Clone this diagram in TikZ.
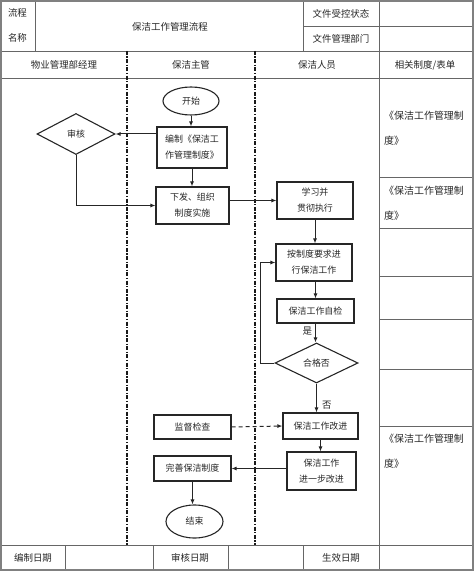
\documentclass[tikz,border=0pt]{standalone}
\usepackage{fontspec}
\setmainfont{Noto Sans CJK SC}
\usetikzlibrary{shapes.geometric,arrows.meta}
\begin{document}
\begin{tikzpicture}[x=1bp,y=-1bp,
  tbl/.style={draw=black!60, line width=0.9bp},
  outer/.style={draw=black!50, line width=2bp},
  box/.style={draw=black!85, line width=1.1bp, align=center, inner sep=0pt, text=black!85, font=\fontsize{9}{16}\selectfont},
  ell/.style={box, ellipse},
  dia/.style={box, diamond},
  arr/.style={-{Latex[length=5bp,width=4bp]}, line width=1bp, draw=black!85},
  dasharr/.style={arr, dash pattern=on 4bp off 3bp},
  lane/.style={line width=1.3bp, draw=black!90, dash pattern=on 4bp off 1.5bp on 1.2bp off 1.5bp},
  lanebold/.style={lane, line width=2bp},
  txt/.style={inner sep=0pt, text=black!85, font=\fontsize{9.5}{11}\selectfont},
  side/.style={inner sep=0pt, text=black!85, align=left, anchor=west, font=\fontsize{10}{25}\selectfont}
]
\useasboundingbox (0,0) rectangle (474,571);
% ---------- table ----------
\draw[tbl] (0,51) -- (474,51);
\draw[tbl] (0,78) -- (474,78);
\draw[tbl] (0,545) -- (474,545);
\draw[tbl] (303,26.7) -- (474,26.7);
\draw[tbl] (35.7,0) -- (35.7,51);
\draw[tbl] (303,0) -- (303,51);
\draw[tbl] (379,0) -- (379,571);
\foreach \xx in {65,153,228,303} \draw[tbl] (\xx,545) -- (\xx,571);
\foreach \yy in {177,228,276,319,369,426} \draw[tbl] (379,\yy) -- (474,\yy);
\draw[outer] (1,1) rectangle (473,570);
\draw[lane] (127,51) -- (127,545);
\draw[lanebold] (255,51) -- (255,545);
% ---------- header texts ----------
\node[txt] (h1) at (17.5,13) {流程};
\node[txt] (h2) at (17.5,38) {名称};
\node[txt] (h3) at (170,27) {保洁工作管理流程};
\node[txt] (h4) at (341,14) {文件受控状态};
\node[txt] (h5) at (341,39) {文件管理部门};
\node[txt] (c1) at (64,65) {物业管理部经理};
\node[txt] (c2) at (191,65) {保洁主管};
\node[txt] (c3) at (317,65) {保洁人员};
\node[txt] (c4) at (425,65) {相关制度/表单};
\node[txt] (f1) at (33,558) {编制日期};
\node[txt] (f2) at (190,558) {审核日期};
\node[txt] (f3) at (341,558) {生效日期};
% ---------- side column ----------
\node[side] (s1) at (384,128) {《保洁工作管理制\\度》};
\node[side] (s2) at (384,203) {《保洁工作管理制\\度》};
\node[side] (s3) at (384,451) {《保洁工作管理制\\度》};
% ---------- flow nodes ----------
\node[ell, minimum width=56bp, minimum height=28bp] (start) at (191,101) {开始};
\node[box, minimum width=70bp, minimum height=41bp] (bz) at (192,147.5) {编制《保洁工\\作管理制度》};
\node[dia, minimum width=78bp, minimum height=41bp] (sh) at (76,134) {审核};
\node[box, minimum width=73bp, minimum height=37bp] (xf) at (192.5,205.5) {下发、组织\\制度实施};
\node[box, minimum width=76bp, minimum height=37bp] (xx) at (315,200.5) {学习并\\贯彻执行};
\node[box, minimum width=76bp, minimum height=37bp] (az) at (314,262.5) {按制度要求进\\行保洁工作};
\node[box, minimum width=77bp, minimum height=24bp] (zj) at (315.5,311) {保洁工作自检};
\node[dia, minimum width=83bp, minimum height=40bp] (hg) at (316.5,363) {合格否};
\node[box, minimum width=75bp, minimum height=26bp] (gj) at (320.5,426) {保洁工作改进};
\node[box, minimum width=77bp, minimum height=24bp] (jd) at (192.5,427) {监督检查};
\node[box, minimum width=69bp, minimum height=38bp] (jy) at (321.5,471) {保洁工作\\进一步改进};
\node[box, minimum width=77bp, minimum height=25bp] (ws) at (192.5,468.5) {完善保洁制度};
\node[ell, minimum width=57bp, minimum height=33bp] (js) at (194.5,521.5) {结束};
\coordinate (lp) at (260,363);
% ---------- connectors ----------
\draw[arr] (start.south) -- (start.south |- bz.north);
\draw[arr] (sh.east -| bz.west) -- (sh.east);
\draw[arr] (bz.south) -- (bz.south |- xf.north);
\draw[arr] (sh.south) |- (xf.west);
\draw[arr] (xf.east |- xx.west) -- (xx.west);
\draw[arr] (xx.south) -- (xx.south |- az.north);
\draw[arr] (zj.north |- az.south) -- (zj.north);
\draw[arr] (zj.south) -- (zj.south |- hg.north) node[txt, pos=0.4, left=3bp] {是};
\draw[arr] (hg.west) -- (lp) |- (az.west);
\draw[arr] (hg.south) -- (hg.south |- gj.north) node[txt, pos=0.75, right=5bp] {否};
\draw[dasharr] (jd.east) -- (gj.west);
\draw[arr] (gj.south) -- (gj.south |- jy.north);
\draw[arr] (jy.west |- ws.east) -- (ws.east);
\draw[arr] (ws.south) -- (ws.south |- js.north);
\end{tikzpicture}
\end{document}
